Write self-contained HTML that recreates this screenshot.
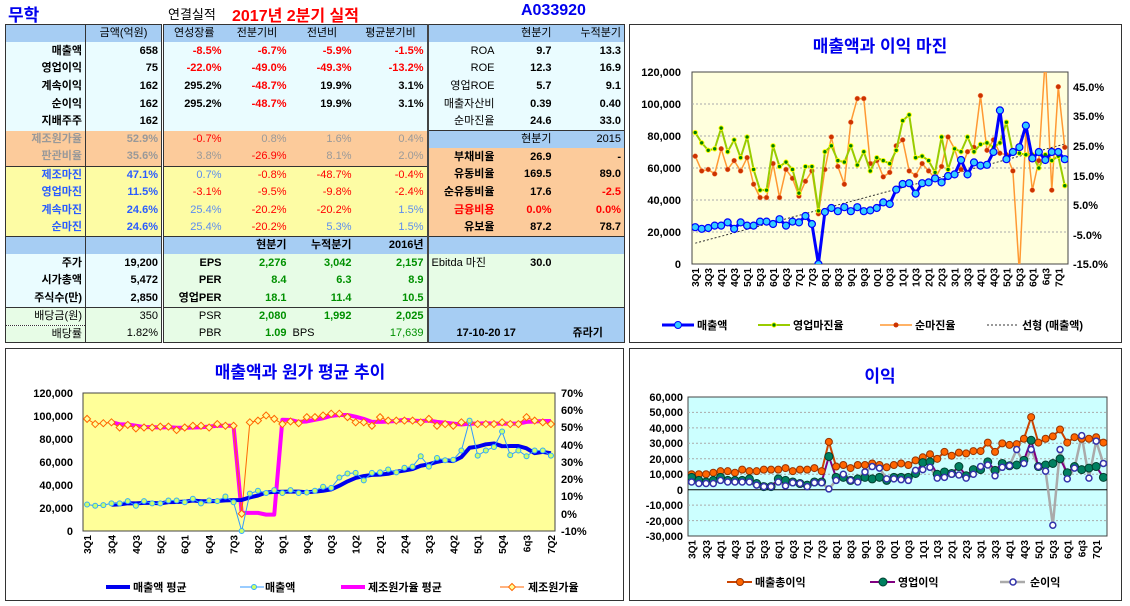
<!DOCTYPE html>
<html><head><meta charset="utf-8">
<style>
*{margin:0;padding:0;box-sizing:border-box}
body{width:1130px;height:606px;background:#fff;position:relative;overflow:hidden;font-family:"Liberation Sans","Noto Sans CJK KR",sans-serif}
.t{position:absolute;white-space:nowrap;font-weight:bold}
table{position:absolute;left:5px;top:24px;border-collapse:collapse;table-layout:fixed;width:619px;border:1px solid #333}
td{height:17.7px;font-size:11px;font-weight:bold;text-align:right;padding:0 3px;white-space:nowrap;overflow:hidden;line-height:15px;color:#000}
.b{background:#a6cdf3}.c{background:#eafcff}.o{background:#fccb9b}.y{background:#fdfca4}.g{background:#e7fce6}
.d1{border-right:1px solid #333}.d2{border-right:3px double #333}.d3{border-right:2px solid #444}
.r{color:#f00}.gr{color:#999}.bl{color:#2a5cff}.lb{color:#5b8cf0}.gn{color:#009000}.n{font-weight:normal}
.tl td{border-top:1px solid #333}
.h td{font-weight:normal;text-align:center}
</style></head><body>
<div class="t" style="left:8px;top:1px;font-size:17px;color:#0000ee">무학</div>
<div class="t" style="left:168px;top:4px;font-size:13px;font-weight:normal">연결실적</div>
<div class="t" style="left:232px;top:2px;font-size:16px;color:#f00">2017년 2분기 실적</div>
<div class="t" style="left:521px;top:2px;font-size:16px;color:#0000ee">A033920</div>
<table>
<colgroup><col style="width:80px"><col style="width:77px"><col style="width:62px"><col style="width:65px"><col style="width:65px"><col style="width:73px"><col style="width:70px"><col style="width:57px"><col style="width:70px"></colgroup>
<tr class="h"><td class="b d1"></td><td class="b d2">금액(억원)</td><td class="b">연성장률</td><td class="b">전분기비</td><td class="b">전년비</td><td class="b d3">평균분기비</td><td class="b"></td><td class="b" style="text-align:right">현분기</td><td class="b" style="text-align:right">누적분기</td></tr>
<tr><td class="c d1">매출액</td><td class="c d2">658</td><td class="c r">-8.5%</td><td class="c r">-6.7%</td><td class="c r">-5.9%</td><td class="c d3 r">-1.5%</td><td class="c n">ROA</td><td class="c">9.7</td><td class="c">13.3</td></tr>
<tr><td class="c d1">영업이익</td><td class="c d2">75</td><td class="c r">-22.0%</td><td class="c r">-49.0%</td><td class="c r">-49.3%</td><td class="c d3 r">-13.2%</td><td class="c n">ROE</td><td class="c">12.3</td><td class="c">16.9</td></tr>
<tr><td class="c d1">계속이익</td><td class="c d2">162</td><td class="c">295.2%</td><td class="c r">-48.7%</td><td class="c">19.9%</td><td class="c d3">3.1%</td><td class="c n">영업ROE</td><td class="c">5.7</td><td class="c">9.1</td></tr>
<tr><td class="c d1">순이익</td><td class="c d2">162</td><td class="c">295.2%</td><td class="c r">-48.7%</td><td class="c">19.9%</td><td class="c d3">3.1%</td><td class="c n">매출자산비</td><td class="c">0.39</td><td class="c">0.40</td></tr>
<tr><td class="c d1">지배주주</td><td class="c d2">162</td><td class="c"></td><td class="c"></td><td class="c"></td><td class="c d3"></td><td class="c n">순마진율</td><td class="c">24.6</td><td class="c">33.0</td></tr>
<tr><td class="o d1 gr">제조원가율</td><td class="o d2 gr">52.9%</td><td class="o r n">-0.7%</td><td class="o gr n">0.8%</td><td class="o gr n">1.6%</td><td class="o d3 gr n">0.4%</td><td class="b" style="border-top:1px solid #333"></td><td class="b n" style="border-top:1px solid #333">현분기</td><td class="b n" style="border-top:1px solid #333">2015</td></tr>
<tr><td class="o d1 gr">판관비율</td><td class="o d2 gr">35.6%</td><td class="o gr n">3.8%</td><td class="o r n">-26.9%</td><td class="o gr n">8.1%</td><td class="o d3 gr n">2.0%</td><td class="o">부채비율</td><td class="o">26.9</td><td class="o">-</td></tr>
<tr><td class="y d1 bl" style="border-top:1px solid #333">제조마진</td><td class="y d2 bl" style="border-top:1px solid #333">47.1%</td><td class="y lb n" style="border-top:1px solid #333">0.7%</td><td class="y r n" style="border-top:1px solid #333">-0.8%</td><td class="y r n" style="border-top:1px solid #333">-48.7%</td><td class="y d3 r n" style="border-top:1px solid #333">-0.4%</td><td class="o">유동비율</td><td class="o">169.5</td><td class="o">89.0</td></tr>
<tr><td class="y d1 bl">영업마진</td><td class="y d2 bl">11.5%</td><td class="y r n">-3.1%</td><td class="y r n">-9.5%</td><td class="y r n">-9.8%</td><td class="y d3 r n">-2.4%</td><td class="o">순유동비율</td><td class="o">17.6</td><td class="o r">-2.5</td></tr>
<tr><td class="y d1 bl">계속마진</td><td class="y d2 bl">24.6%</td><td class="y lb n">25.4%</td><td class="y r n">-20.2%</td><td class="y r n">-20.2%</td><td class="y d3 lb n">1.5%</td><td class="o r">금융비용</td><td class="o r">0.0%</td><td class="o r">0.0%</td></tr>
<tr><td class="y d1 bl">순마진</td><td class="y d2 bl">24.6%</td><td class="y lb n">25.4%</td><td class="y r n">-20.2%</td><td class="y lb n">5.3%</td><td class="y d3 lb n">1.5%</td><td class="o">유보율</td><td class="o">87.2</td><td class="o">78.7</td></tr>
<tr class="tl"><td class="b d1"></td><td class="b d2"></td><td class="b"></td><td class="b">현분기</td><td class="b">누적분기</td><td class="b d3">2016년</td><td class="b"></td><td class="b"></td><td class="b"></td></tr>
<tr><td class="c d1">주가</td><td class="c d2">19,200</td><td class="g">EPS</td><td class="g gn">2,276</td><td class="g gn">3,042</td><td class="g d3 gn">2,157</td><td class="g n" style="text-align:left" colspan="1">Ebitda 마진</td><td class="g">30.0</td><td class="g"></td></tr>
<tr><td class="c d1">시가총액</td><td class="c d2">5,472</td><td class="g">PER</td><td class="g gn">8.4</td><td class="g gn">6.3</td><td class="g d3 gn">8.9</td><td class="g"></td><td class="g"></td><td class="g"></td></tr>
<tr><td class="c d1">주식수(만)</td><td class="c d2">2,850</td><td class="g">영업PER</td><td class="g gn">18.1</td><td class="g gn">11.4</td><td class="g d3 gn">10.5</td><td class="g"></td><td class="g"></td><td class="g"></td></tr>
<tr class="tl"><td class="g d1 n">배당금(원)</td><td class="g d2 n">350</td><td class="g n">PSR</td><td class="g gn">2,080</td><td class="g gn">1,992</td><td class="g d3 gn">2,025</td><td class="b"></td><td class="b"></td><td class="b"></td></tr>
<tr><td class="g d1 n" style="border-top:1px dotted #333">배당률</td><td class="g d2 n">1.82%</td><td class="g n">PBR</td><td class="g gn">1.09</td><td class="g n" style="text-align:left">BPS</td><td class="g d3 gn n">17,639</td><td class="b" colspan="2" style="text-align:left;padding-left:28px">17-10-20 17</td><td class="b" style="text-align:left;padding-left:18px">쥬라기</td></tr>
</table>

<svg id="s" width="1130" height="606" style="position:absolute;left:0;top:0" font-family="Liberation Sans, Noto Sans CJK KR, sans-serif">
<defs>
<clipPath id="k1"><rect x="692" y="72" width="376" height="192"/></clipPath>
<clipPath id="k3"><rect x="688" y="397" width="419" height="139"/></clipPath>
</defs>
<!-- chart boxes -->
<rect x="629.5" y="24.5" width="492" height="318" fill="#fff" stroke="#333"/>
<rect x="5.5" y="348.5" width="618" height="252" fill="#fff" stroke="#333"/>
<rect x="629.5" y="348.5" width="492" height="252" fill="#fff" stroke="#333"/>
<!-- chart1 -->
<text x="880" y="52" font-size="17" font-weight="bold" fill="#0000ee" text-anchor="middle">매출액과 이익 마진</text>
<rect x="692" y="72" width="376" height="192" fill="#ffffdd" stroke="#444"/>
<g stroke="#aaa" stroke-dasharray="2,2"><line x1="692" x2="1068" y1="104" y2="104"/><line x1="692" x2="1068" y1="136" y2="136"/><line x1="692" x2="1068" y1="168" y2="168"/><line x1="692" x2="1068" y1="200" y2="200"/><line x1="692" x2="1068" y1="232" y2="232"/></g>
<g font-size="11" font-weight="bold" text-anchor="end">
<text x="681" y="76">120,000</text><text x="681" y="108">100,000</text><text x="681" y="140">80,000</text><text x="681" y="172">60,000</text><text x="681" y="204">40,000</text><text x="681" y="236">20,000</text><text x="681" y="268">0</text></g>
<g font-size="11" font-weight="bold"><text x="1073" y="91">45.0%</text><text x="1073" y="120">35.0%</text><text x="1073" y="150">25.0%</text><text x="1073" y="180">15.0%</text><text x="1073" y="209">5.0%</text><text x="1073" y="239">-5.0%</text><text x="1073" y="268">-15.0%</text></g>
<g id="x1" font-size="10" font-weight="bold"><text>3Q1</text><text>3Q3</text><text>4Q1</text><text>4Q3</text><text>5Q1</text><text>5Q3</text><text>6Q1</text><text>6Q3</text><text>7Q1</text><text>7Q3</text><text>8Q1</text><text>8Q3</text><text>9Q1</text><text>9Q3</text><text>0Q1</text><text>0Q3</text><text>1Q1</text><text>1Q3</text><text>2Q1</text><text>2Q3</text><text>3Q1</text><text>3Q3</text><text>4Q1</text><text>4Q3</text><text>5Q1</text><text>5Q3</text><text>6Q1</text><text>6q3</text><text>7Q1</text></g>
<g id="c1" clip-path="url(#k1)"></g>
<g font-size="11" font-weight="bold">
<line x1="662" x2="694" y1="325" y2="325" stroke="#0000ff" stroke-width="3"/><circle cx="678" cy="325" r="3.5" fill="#33ccff" stroke="#0000ff"/><text x="697" y="329">매출액</text>
<line x1="758" x2="790" y1="325" y2="325" stroke="#99cc00" stroke-width="2"/><circle cx="774" cy="325" r="2.2" fill="#008000" stroke="#ff0"/><text x="793" y="329">영업마진율</text>
<line x1="880" x2="912" y1="325" y2="325" stroke="#ff9933" stroke-width="1.5"/><circle cx="896" cy="325" r="2.5" fill="#cc3300"/><text x="915" y="329">순마진율</text>
<line x1="987" x2="1017" y1="325" y2="325" stroke="#333" stroke-dasharray="2,2"/><text x="1022" y="329">선형 (매출액)</text></g>

<!-- chart2 -->
<text x="300" y="378" font-size="17" font-weight="bold" fill="#0000ee" text-anchor="middle">매출액과 원가 평균 추이</text>
<rect x="83" y="393" width="472" height="138" fill="#ffff99" stroke="#444"/>
<g font-size="11" font-weight="bold" text-anchor="end"><text x="73" y="397">120,000</text><text x="73" y="420">100,000</text><text x="73" y="443">80,000</text><text x="73" y="466">60,000</text><text x="73" y="489">40,000</text><text x="73" y="512">20,000</text><text x="73" y="535">0</text></g>
<g font-size="11" font-weight="bold"><text x="561" y="397">70%</text><text x="561" y="414">60%</text><text x="561" y="431">50%</text><text x="561" y="449">40%</text><text x="561" y="466">30%</text><text x="561" y="483">20%</text><text x="561" y="500">10%</text><text x="561" y="518">0%</text><text x="561" y="535">-10%</text></g>
<g id="x2" font-size="10" font-weight="bold"><text>3Q1</text><text>3Q4</text><text>4Q3</text><text>5Q2</text><text>6Q1</text><text>6Q4</text><text>7Q3</text><text>8Q2</text><text>9Q1</text><text>9Q4</text><text>0Q3</text><text>1Q2</text><text>2Q1</text><text>2Q4</text><text>3Q3</text><text>4Q2</text><text>5Q1</text><text>5Q4</text><text>6q3</text><text>7Q2</text></g>
<g id="c2"></g>
<g font-size="11" font-weight="bold">
<line x1="106" x2="130" y1="587" y2="587" stroke="#0000ee" stroke-width="4"/><text x="133" y="591">매출액 평균</text>
<line x1="240" x2="264" y1="587" y2="587" stroke="#3399ff"/><circle cx="254" cy="587" r="2.5" fill="#ccff66" stroke="#33aaff"/><text x="265" y="591">매출액</text>
<line x1="341" x2="365" y1="587" y2="587" stroke="#ff00ff" stroke-width="4"/><text x="368" y="591">제조원가율 평균</text>
<line x1="500" x2="524" y1="587" y2="587" stroke="#ff6600"/><path d="M512 583.5 L515.5 587 L512 590.5 L508.5 587Z" fill="#ffff99" stroke="#ff6600"/><text x="528" y="591">제조원가율</text></g>

<!-- chart3 -->
<text x="880" y="382" font-size="17" font-weight="bold" fill="#0000ee" text-anchor="middle">이익</text>
<rect x="688" y="397" width="419" height="139" fill="#ccffff" stroke="#444"/>
<g stroke="#aaa" stroke-dasharray="2,2"><line x1="688" x2="1107" y1="412.4" y2="412.4"/><line x1="688" x2="1107" y1="427.9" y2="427.9"/><line x1="688" x2="1107" y1="443.3" y2="443.3"/><line x1="688" x2="1107" y1="458.8" y2="458.8"/><line x1="688" x2="1107" y1="474.2" y2="474.2"/><line x1="688" x2="1107" y1="505.1" y2="505.1"/><line x1="688" x2="1107" y1="520.6" y2="520.6"/></g>
<line x1="688" x2="1107" y1="489.7" y2="489.7" stroke="#000"/>
<g font-size="11" font-weight="bold" text-anchor="end"><text x="683" y="401">60,000</text><text x="683" y="416">50,000</text><text x="683" y="432">40,000</text><text x="683" y="447">30,000</text><text x="683" y="463">20,000</text><text x="683" y="478">10,000</text><text x="683" y="494">0</text><text x="683" y="509">-10,000</text><text x="683" y="525">-20,000</text><text x="683" y="540">-30,000</text></g>
<g id="x3" font-size="10" font-weight="bold"><text>3Q1</text><text>3Q3</text><text>4Q1</text><text>4Q3</text><text>5Q1</text><text>5Q3</text><text>6Q1</text><text>6Q3</text><text>7Q1</text><text>7Q3</text><text>8Q1</text><text>8Q3</text><text>9Q1</text><text>9Q3</text><text>0Q1</text><text>0Q3</text><text>1Q1</text><text>1Q3</text><text>2Q1</text><text>2Q3</text><text>3Q1</text><text>3Q3</text><text>4Q1</text><text>4Q3</text><text>5Q1</text><text>5Q3</text><text>6Q1</text><text>6q3</text><text>7Q1</text></g>
<g id="c3" clip-path="url(#k3)"></g>
<g font-size="11" font-weight="bold">
<line x1="727" x2="752" y1="582" y2="582" stroke="#cc4400" stroke-width="2"/><circle cx="740" cy="582" r="3.5" fill="#ff6600" stroke="#993300"/><text x="755" y="586">매출총이익</text>
<line x1="870" x2="895" y1="582" y2="582" stroke="#800080" stroke-width="2"/><circle cx="883" cy="582" r="4" fill="#008060" stroke="#004030"/><text x="898" y="586">영업이익</text>
<line x1="1000" x2="1025" y1="582" y2="582" stroke="#aaa" stroke-width="2.5"/><circle cx="1013" cy="582" r="3" fill="#fff" stroke="#3333aa" stroke-width="1.5"/><text x="1030" y="586">순이익</text></g>
</svg>
<script>
const NS='http://www.w3.org/2000/svg';
function el(p,t,a){const e=document.createElementNS(NS,t);for(const k in a)e.setAttribute(k,a[k]);p.appendChild(e);return e;}
function line(g,pts,st,w,extra){el(g,'polyline',Object.assign({points:pts.map(p=>p.join(',')).join(' '),fill:'none',stroke:st,'stroke-width':w,'stroke-linejoin':'round'},extra||{}));}
function dots(g,pts,r,f,s,sw){pts.forEach(p=>{if(p)el(g,'circle',{cx:p[0],cy:p[1],r:r,fill:f,stroke:s,'stroke-width':sw||1});});}
function xl(id,x0,dx,step,y){document.querySelectorAll('#'+id+' text').forEach((t,i)=>{const x=x0+(i*step+0.5)*dx+4;t.setAttribute('x',x);t.setAttribute('y',y);t.setAttribute('text-anchor','end');t.setAttribute('transform','rotate(-90 '+x+' '+y+')');});}
const S=[23,22,22.5,24,24,26,22,26,24,24,26.5,26.5,25,28,24,26.5,26,30,25,0,32.5,35,33,35.5,33,35.5,33,33.5,35,38.5,37.5,46.5,50,50.5,44,50.5,51,53.5,51,55,56,65,56,63.5,61.5,62,70,96,65.5,70,73,86.5,66,70,65,70,70,65.5];
const OM=[29.5,26,23.5,24,31,23,27,21,28,17,10,10,25,18,19.5,17,9,18,18,3,23,25,20,19.5,25,18.5,23,16.5,21,20,19,23.5,33.5,35.5,21,21.5,20,16,28,17,24,23,28,23,25.5,26,24.5,26,33,22.5,22.5,22,22,17.5,22,20,21.5,11.5];
const NM=[21.5,16.5,17,15.5,24,17,20,16.5,21,12,7.5,7.5,19,7.5,17,14,8,13,16.5,2,17,28,18,12,33,41,41,19,20,14.5,16,25,27,16.5,15,19,16.5,14,18,28,24,17,23,24.5,42,23.5,27,22.5,22,16.5,-18,30,10,20,55,10,45,24.5];
// chart1
(function(){const g=document.getElementById('c1');const x0=692,dx=376/58;const X=i=>x0+(i+0.5)*dx;
const yl=v=>264-v*192/120,yr=v=>264-(v+15)*2.954;
line(g,[[X(0),yl(13)],[X(57),yl(75)]],'#333',1,{'stroke-dasharray':'2,2'});
const pn=NM.map((v,i)=>[X(i),yr(v)]);line(g,pn,'#ff9933',1.5);dots(g,pn,2.5,'#cc3300','#ff9966',0.5);
const po=OM.map((v,i)=>[X(i),yr(v)]);line(g,po,'#99cc00',2);dots(g,po,2.2,'#008000','#ffff00',1);
const ps=S.map((v,i)=>[X(i),yl(v)]);line(g,ps,'#0000ff',3);dots(g,ps,3.5,'#33ccff','#0000ff',1.2);
xl('x1',x0,dx,2,268);})();
// chart2
const R=[55,52,52.5,53,50,51.5,49.5,50,50,50.5,50.5,48.5,50,51,51,50,52,51,51,0,53,54,57,55,52,53.5,52.5,56,56,57,58,58,56,53,53,51,56,54,54,54,54,53,55,51,52,51,53,53,52,52,52,53,52,52,56,54,53,52];
(function(){const g=document.getElementById('c2');const x0=83,dx=472/58;const X=i=>x0+(i+0.5)*dx;
const yl=v=>531-v*138/120,yr=v=>531-(v+10)*138/80;
function avg(a,i){let s=0,n=0;for(let j=i-3;j<=i;j++){if(a[j]>0){s+=a[j];n++;}}return s/n;}
const pa=[],pm=[];for(let i=3;i<58;i++){pa.push([X(i),yl(avg(S,i))]);pm.push([X(i),yr((i>=19&&i<=23)?(i==22||i==23?-0.5:0.5):avg(R,i))]);}
line(g,pm,'#ff00ff',4);
const pr=R.map((v,i)=>[X(i),yr(v)]);line(g,pr,'#ff6600',1);
pr.forEach(p=>el(g,'path',{d:`M${p[0]} ${p[1]-3.5}L${p[0]+3.5} ${p[1]}L${p[0]} ${p[1]+3.5}L${p[0]-3.5} ${p[1]}Z`,fill:'#ffff99',stroke:'#ff6600','stroke-width':1}));
line(g,pa,'#0000ee',4);
const ps=S.map((v,i)=>[X(i),yl(v)]);line(g,ps,'#3399ff',1);dots(g,ps,2.5,'#ccff66','#33aaff',1);
xl('x2',x0,dx,3,535);})();
// chart3
const GP=[10,10,10,11,12,12,11,13,12,12,13,13,13,14,12,13,13,14,12,31,15,16,14,16,16,17,16,14.5,16,17,16,19,21,23,20,24.5,22,24,23.5,25,25,30.5,24.5,30,29,29.5,33,47,30.5,33,34.5,39,30.5,34,33,33,34,30.5];
const OP=[8,6,5,6,8,6,6,6,7,4,2,2,7,6,5,4,3,5,5,21.5,8,8,6,7,8,7,8,6,8,8,8,10.5,17.5,18,10,11.5,10.5,15,9,13,13,18,12.5,17,15.5,16,19,32,15,16,17,20,11,15,13,14,15,8];
const NP=[5,4,4,4,6,5,5,5,5,3,2,2,5,2.5,4.5,4,2,4.5,4.5,0.5,6,10,6,5,11.5,15,14,7,7,6.5,6,12.5,13,14.5,7.5,8,10,9.5,7.5,10,15,16,9,14.5,15.5,26,17,26,15,12,-23,26,7,14,35,7.5,31.5,17];
(function(){const g=document.getElementById('c3');const x0=688,dx=419/58;const X=i=>x0+(i+0.5)*dx;const y=v=>489.7-v*1.544;
const pn=NP.map((v,i)=>[X(i),y(v)]),po=OP.map((v,i)=>[X(i),y(v)]),pg=GP.map((v,i)=>[X(i),y(v)]);
line(g,pn,'#aaaaaa',2.5);line(g,po,'#800080',2);line(g,pg,'#cc4400',2);
dots(g,pg,3.5,'#ff6600','#993300',1);dots(g,po,4,'#008060','#004030',1);dots(g,pn,3,'#fff','#3333aa',1.5);
xl('x3',x0,dx,2,540);})();
</script>
</body></html>
